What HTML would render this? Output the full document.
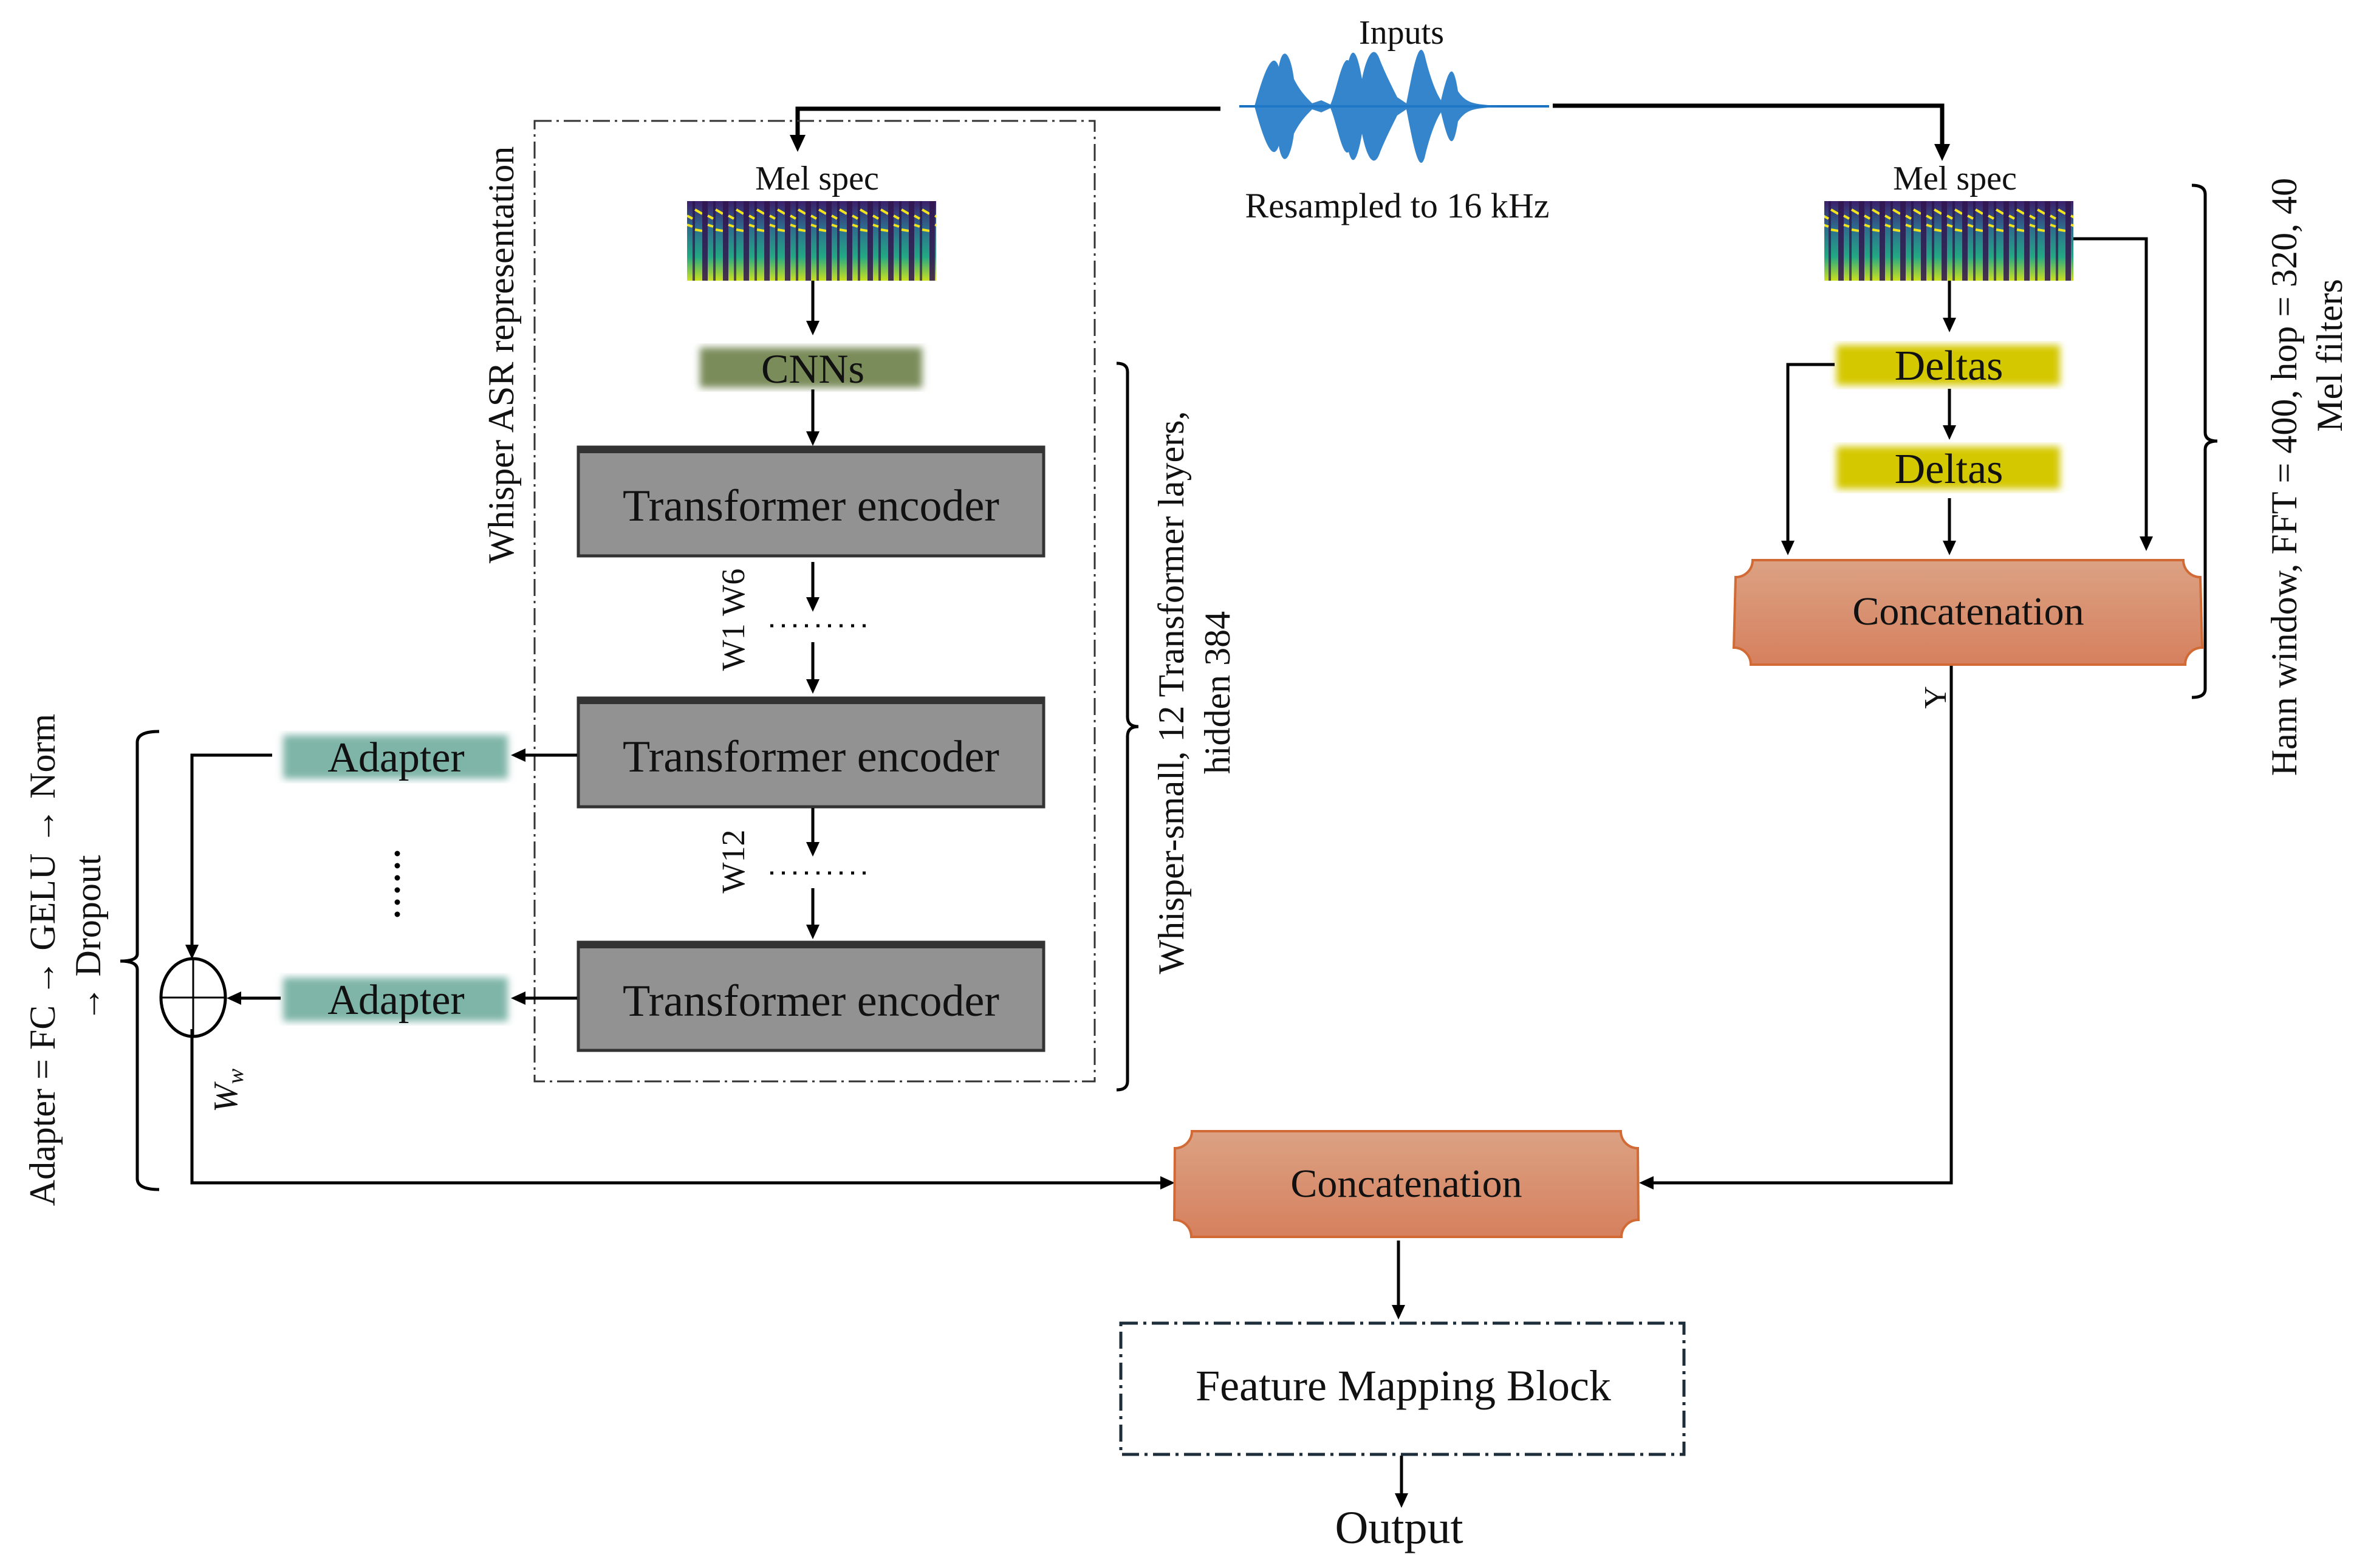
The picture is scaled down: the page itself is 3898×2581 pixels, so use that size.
<!DOCTYPE html>
<html><head><meta charset="utf-8"><style>
html,body{margin:0;padding:0;background:#fff}
svg{display:block}
text{font-family:"Liberation Serif",serif;fill:#111}
</style></head><body>
<svg width="3898" height="2581" viewBox="0 0 3898 2581" xmlns="http://www.w3.org/2000/svg">
<defs>
<linearGradient id="spec" x1="0" y1="0" x2="0" y2="1">
<stop offset="0" stop-color="#3b1f6b"/><stop offset="0.35" stop-color="#2d6e8e"/><stop offset="0.7" stop-color="#23a884"/><stop offset="1" stop-color="#c9e020"/>
</linearGradient>
<pattern id="stripes" width="34" height="130" patternUnits="userSpaceOnUse">
<rect x="0" y="0" width="9" height="130" fill="#30154f" opacity="0.85"/>
<rect x="18" y="0" width="4" height="130" fill="#2a1148" opacity="0.7"/>
<path d="M9 95 L18 100 M9 110 L18 113 M22 85 L34 92 M22 118 L34 120" stroke="#f2e41c" stroke-width="4"/>
</pattern>
<linearGradient id="conc" x1="0" y1="0" x2="0" y2="1">
<stop offset="0" stop-color="#dba283"/><stop offset="1" stop-color="#d6805e"/>
</linearGradient>
<filter id="blur"><feGaussianBlur stdDeviation="6"/></filter>
</defs>
<g stroke="#000" stroke-width="7" fill="none">
<polyline points="2009,179 1313,179 1313,225"/>
<polyline points="2556,174 3197,174 3197,240"/>
</g>
<g fill="#000">
<polygon points="1300,222 1326,222 1313,250"/>
<polygon points="3184,237 3210,237 3197,265"/>
</g>

<!-- waveform -->
<line x1="2040" y1="175" x2="2550" y2="175" stroke="#1a73c2" stroke-width="4"/>
<g fill="#1f78c8" opacity="0.9">
<path d="M2065 175 C2080 120 2095 80 2105 110 C2112 70 2125 90 2130 130 C2140 150 2150 160 2160 170 L2175 165 L2190 172 C2200 150 2210 90 2220 100 C2228 70 2236 95 2242 130 C2250 90 2262 70 2272 100 C2280 120 2290 140 2300 160 L2315 170 C2325 120 2335 60 2345 90 C2352 120 2362 150 2372 165 C2385 110 2392 100 2400 150 C2410 165 2420 170 2440 172 L2470 175 L2440 178 C2420 180 2410 185 2400 200 C2392 250 2385 240 2372 185 C2362 200 2352 230 2345 260 C2335 290 2325 230 2315 180 L2300 190 C2290 210 2280 230 2272 250 C2262 280 2250 260 2242 220 C2236 255 2228 280 2220 250 C2210 260 2200 200 2190 178 L2175 185 L2160 180 C2150 190 2140 200 2130 220 C2125 260 2112 280 2105 240 C2095 270 2080 230 2065 175 Z"/>
</g>
<text x="2307" y="72" font-size="56" text-anchor="middle">Inputs</text>
<text x="2300" y="358" font-size="58" text-anchor="middle">Resampled to 16 kHz</text>

<rect x="880" y="199" width="922" height="1581" fill="none" stroke="#333" stroke-width="3" stroke-dasharray="28,8,4,8"/>
<text transform="translate(845,584) rotate(-90)" font-size="60" text-anchor="middle">Whisper ASR representation</text>

<text x="1345" y="312" font-size="56" text-anchor="middle">Mel spec</text>
<rect x="1131" y="331" width="410" height="131" fill="url(#spec)"/>
<rect x="1131" y="331" width="410" height="131" fill="url(#stripes)"/>

<text x="3218" y="312" font-size="56" text-anchor="middle">Mel spec</text>
<rect x="3003" y="331" width="410" height="131" fill="url(#spec)"/>
<rect x="3003" y="331" width="410" height="131" fill="url(#stripes)"/>

<rect x="1152" y="572" width="366" height="66" fill="#7a8c5a" filter="url(#blur)"/>
<text x="1338" y="630" font-size="68" text-anchor="middle">CNNs</text>

<g>
<rect x="952" y="736" width="766" height="179" fill="#929292" stroke="#333" stroke-width="5"/>
<rect x="952" y="736" width="766" height="10" fill="#333"/>
<text x="1335" y="857" font-size="74" text-anchor="middle">Transformer encoder</text>
<rect x="952" y="1149" width="766" height="179" fill="#929292" stroke="#333" stroke-width="5"/>
<rect x="952" y="1149" width="766" height="10" fill="#333"/>
<text x="1335" y="1270" font-size="74" text-anchor="middle">Transformer encoder</text>
<rect x="952" y="1551" width="766" height="178" fill="#929292" stroke="#333" stroke-width="5"/>
<rect x="952" y="1551" width="766" height="10" fill="#333"/>
<text x="1335" y="1672" font-size="74" text-anchor="middle">Transformer encoder</text>
</g>

<g stroke="#000" stroke-width="5" fill="none">
<line x1="1338" y1="462" x2="1338" y2="530"/>
<line x1="1338" y1="641" x2="1338" y2="710"/>
<line x1="1338" y1="925" x2="1338" y2="985"/>
<line x1="1338" y1="1057" x2="1338" y2="1118"/>
<line x1="1338" y1="1330" x2="1338" y2="1388"/>
<line x1="1338" y1="1462" x2="1338" y2="1522"/>
</g>
<g fill="#000">
<polygon points="1327,528 1349,528 1338,552"/>
<polygon points="1327,710 1349,710 1338,734"/>
<polygon points="1327,983 1349,983 1338,1007"/>
<polygon points="1327,1118 1349,1118 1338,1142"/>
<polygon points="1327,1386 1349,1386 1338,1410"/>
<polygon points="1327,1522 1349,1522 1338,1546"/>
</g>
<line x1="1268" y1="1030" x2="1432" y2="1030" stroke="#000" stroke-width="5" stroke-dasharray="5,14"/>
<line x1="1268" y1="1437" x2="1432" y2="1437" stroke="#000" stroke-width="5" stroke-dasharray="5,14"/>
<text transform="translate(1225,1020) rotate(-90)" font-size="54" text-anchor="middle">W1 W6</text>
<text transform="translate(1225,1418) rotate(-90)" font-size="54" text-anchor="middle">W12</text>

<path d="M1838 598 Q1856 598 1856 612 L1856 1180 Q1856 1196 1874 1196 Q1856 1196 1856 1212 L1856 1780 Q1856 1794 1838 1794" fill="none" stroke="#000" stroke-width="5"/>
<text transform="translate(1948,1140) rotate(-90)" font-size="60" text-anchor="middle">Whisper-small, 12 Transformer layers,</text>
<text transform="translate(2024,1140) rotate(-90)" font-size="60" text-anchor="middle">hidden 384</text>

<rect x="466" y="1210" width="370" height="72" fill="#7fb5a8" filter="url(#blur)"/>
<text x="652" y="1270" font-size="70" text-anchor="middle">Adapter</text>
<rect x="466" y="1609" width="370" height="72" fill="#7fb5a8" filter="url(#blur)"/>
<text x="652" y="1669" font-size="70" text-anchor="middle">Adapter</text>
<line x1="654" y1="1405" x2="654" y2="1525" stroke="#000" stroke-width="9" stroke-linecap="round" stroke-dasharray="0,20"/>

<g stroke="#000" stroke-width="5" fill="none">
<line x1="950" y1="1243" x2="865" y2="1243"/>
<line x1="950" y1="1643" x2="865" y2="1643"/>
<line x1="462" y1="1643" x2="395" y2="1643"/>
<polyline points="448,1243 316,1243 316,1568"/>
<polyline points="316,1694 316,1947 1910,1947"/>
<ellipse cx="318" cy="1642" rx="53" ry="64"/>
<line x1="265" y1="1642" x2="371" y2="1642" stroke-width="3"/>
<line x1="318" y1="1578" x2="318" y2="1706" stroke-width="3"/>
</g>
<g fill="#000">
<polygon points="865,1232 865,1254 841,1243"/>
<polygon points="865,1632 865,1654 841,1643"/>
<polygon points="397,1632 397,1654 373,1643"/>
<polygon points="305,1555 327,1555 316,1579"/>
<polygon points="1910,1936 1910,1958 1934,1947"/>
</g>
<text transform="translate(390,1795) rotate(-90)" font-size="56" font-style="italic" text-anchor="middle">W<tspan font-size="38" dy="10">w</tspan></text>

<path d="M262 1204 Q226 1204 226 1222 L226 1570 Q226 1582 198 1582 Q226 1582 226 1596 L226 1940 Q226 1958 262 1958" fill="none" stroke="#000" stroke-width="5"/>
<text transform="translate(90,1580) rotate(-90)" font-size="60" text-anchor="middle">Adapter = FC → GELU → Norm</text>
<text transform="translate(165,1545) rotate(-90)" font-size="60" text-anchor="middle">→ Dropout</text>

<rect x="3023" y="568" width="368" height="66" fill="#d4c800" filter="url(#blur)"/>
<text x="3208" y="625" font-size="70" text-anchor="middle">Deltas</text>
<rect x="3023" y="735" width="368" height="70" fill="#d4c800" filter="url(#blur)"/>
<text x="3208" y="795" font-size="70" text-anchor="middle">Deltas</text>

<g stroke="#000" stroke-width="5" fill="none">
<line x1="3209" y1="462" x2="3209" y2="525"/>
<line x1="3209" y1="640" x2="3209" y2="700"/>
<line x1="3209" y1="820" x2="3209" y2="892"/>
<polyline points="3020,600 2943,600 2943,892"/>
<polyline points="3413,393 3533,393 3533,885"/>
<polyline points="3212,1094 3212,1947 2720,1947"/>
<line x1="2302" y1="2042" x2="2302" y2="2150"/>
<line x1="2307" y1="2396" x2="2307" y2="2460"/>
</g>
<g fill="#000">
<polygon points="3198,523 3220,523 3209,547"/>
<polygon points="3198,700 3220,700 3209,724"/>
<polygon points="3198,890 3220,890 3209,914"/>
<polygon points="2932,890 2954,890 2943,914"/>
<polygon points="3522,883 3544,883 3533,907"/>
<polygon points="2722,1936 2722,1958 2698,1947"/>
<polygon points="2291,2148 2313,2148 2302,2172"/>
<polygon points="2296,2458 2318,2458 2307,2482"/>
</g>

<path d="M2885 922 L3594 922 A28 28 0 0 0 3622 950 L3625 1066 A28 28 0 0 0 3597 1094 L2882 1094 A28 28 0 0 0 2854 1066 L2857 950 A28 28 0 0 0 2885 922 Z" fill="url(#conc)" stroke="#d26a35" stroke-width="4"/>
<text x="3240" y="1028" font-size="66" text-anchor="middle">Concatenation</text>
<text transform="translate(3203,1148) rotate(-90)" font-size="52" text-anchor="middle">Y</text>

<path d="M3608 305 Q3630 305 3630 320 L3630 712 Q3630 726 3650 726 Q3630 726 3630 740 L3630 1134 Q3630 1148 3608 1148" fill="none" stroke="#000" stroke-width="5"/>
<text transform="translate(3780,785) rotate(-90)" font-size="60" text-anchor="middle">Hann window, FFT = 400, hop = 320, 40</text>
<text transform="translate(3855,585) rotate(-90)" font-size="60" text-anchor="middle">Mel filters</text>

<path d="M1962 1862 L2668 1862 A28 28 0 0 0 2696 1890 L2697 2008 A28 28 0 0 0 2669 2036 L1961 2036 A28 28 0 0 0 1933 2008 L1934 1890 A28 28 0 0 0 1962 1862 Z" fill="url(#conc)" stroke="#d26a35" stroke-width="4"/>
<text x="2315" y="1970" font-size="66" text-anchor="middle">Concatenation</text>

<rect x="1845" y="2178" width="927" height="216" fill="none" stroke="#1d2e3a" stroke-width="5" stroke-dasharray="28,9,5,9"/>
<text x="2310" y="2305" font-size="72" text-anchor="middle">Feature Mapping Block</text>
<text x="2303" y="2540" font-size="76" text-anchor="middle">Output</text>
</svg>
</body></html>
